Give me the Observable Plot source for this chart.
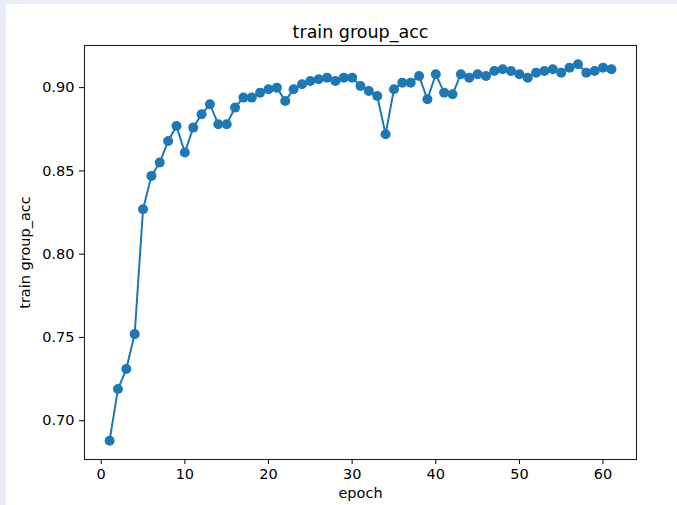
<!DOCTYPE html>
<html>
<head>
<meta charset="utf-8">
<script src="https://cdn.jsdelivr.net/npm/d3@7"></script>
<script src="https://cdn.jsdelivr.net/npm/@observablehq/plot@0.6"></script>
<style>
  html, body { margin: 0; padding: 0; }
  body { width: 677px; height: 505px; background: #e9eef6; position: relative; overflow: hidden; }
  #chart { position: absolute; left: 6px; top: 4px; width: 671px; height: 501px; background: #fff; }
  #chart svg { display: block; font-family: "DejaVu Sans", sans-serif; }
</style>
</head>
<body>
<div id="chart"></div>
<script>
// Training accuracy per epoch
const epochs = [
  1, 2, 3, 4, 5, 6, 7, 8, 9, 10,
  11, 12, 13, 14, 15, 16, 17, 18, 19, 20,
  21, 22, 23, 24, 25, 26, 27, 28, 29, 30,
  31, 32, 33, 34, 35, 36, 37, 38, 39, 40,
  41, 42, 43, 44, 45, 46, 47, 48, 49, 50,
  51, 52, 53, 54, 55, 56, 57, 58, 59, 60,
  61
];
const groupAcc = [
  0.688, 0.719, 0.731, 0.752, 0.827, 0.847, 0.855, 0.868, 0.877, 0.861,
  0.876, 0.884, 0.890, 0.878, 0.878, 0.888, 0.894, 0.894, 0.897, 0.899,
  0.900, 0.892, 0.899, 0.902, 0.904, 0.905, 0.906, 0.904, 0.906, 0.906,
  0.901, 0.898, 0.895, 0.872, 0.899, 0.903, 0.903, 0.907, 0.893, 0.908,
  0.897, 0.896, 0.908, 0.906, 0.908, 0.907, 0.910, 0.911, 0.910, 0.908,
  0.906, 0.909, 0.910, 0.911, 0.909, 0.912, 0.914, 0.909, 0.910, 0.912,
  0.911
];
const xTicks = [0, 10, 20, 30, 40, 50, 60];
const yTicks = [0.70, 0.75, 0.80, 0.85, 0.90];

const titleText = "train group_acc";
const xLabel = "epoch";
const yLabel = "train group_acc";

const rows = epochs.map((e, i) => ({epoch: e, acc: groupAcc[i]}));

// pad each axis by 5% of the data span
const pad = ([lo, hi]) => { const m = (hi - lo) * 0.05; return [lo - m, hi + m]; };
const xDomain = pad(d3.extent(epochs));
const yDomain = pad(d3.extent(groupAcc));

const blue = "#1f77b4";

const chart = Plot.plot({
  width: 671,
  height: 501,
  marginLeft: 78,
  marginRight: 41,
  marginTop: 41,
  marginBottom: 46,
  style: {fontSize: "14px", fontFamily: "DejaVu Sans, sans-serif", color: "#000", background: "#fff"},
  x: {domain: xDomain},
  y: {domain: yDomain},
  marks: [
    Plot.line(rows, {x: "epoch", y: "acc", stroke: blue, strokeWidth: 2}),
    Plot.dot(rows, {x: "epoch", y: "acc", fill: blue, r: 5}),
    Plot.frame({stroke: "#222", strokeWidth: 1.1}),
    Plot.axisX({ticks: xTicks, tickSize: 5, tickPadding: 4, fontSize: 14.5,
      label: xLabel, labelAnchor: "center", labelArrow: "none", labelOffset: 38}),
    Plot.axisY({ticks: yTicks, tickSize: 5, tickPadding: 5, fontSize: 14.5, tickFormat: ".2f",
      label: yLabel, labelAnchor: "center", labelArrow: "none", labelOffset: 65}),
    Plot.text([titleText], {frameAnchor: "top", dy: -20, fontSize: 17.5, fill: "#000"})
  ]
});

document.getElementById("chart").appendChild(chart);
</script>
</body>
</html>
